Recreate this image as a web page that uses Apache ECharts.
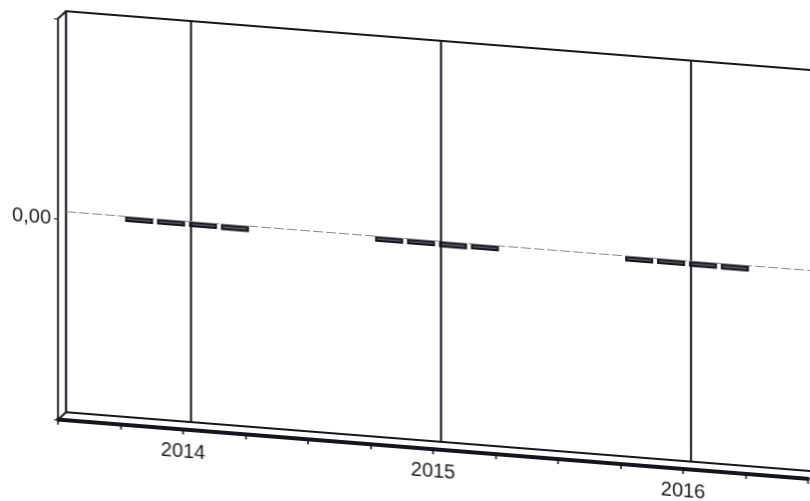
<!DOCTYPE html>
<html><head><meta charset="utf-8">
<script src="https://cdn.jsdelivr.net/npm/echarts@6/dist/echarts.min.js"></script>
<style>
html,body{margin:0;padding:0;background:#fff;overflow:hidden;width:810px;height:501px}
#c{width:830px;height:501px;transform:skewY(4.517deg);transform-origin:0 0;}
</style>
</head><body><div id="c"></div>
<script>
// ---- data ----
const years = [2014, 2015, 2016];
const xMin = 2013.5, xMax = 2016.5, xTickStep = 0.25;
const yMin = -1, yMax = 1;
const zeroLabel = '0,00';
const seriesA = [-0.027, -0.028, -0.028];
const seriesB = [-0.028, -0.028, -0.028];
const seriesC = [-0.028, -0.030, -0.029];
const seriesD = [-0.030, -0.028, -0.030];

// ---- layout (unskewed frame) ----
const wall = {left: 66, top: 6, width: 750, height: 401};
const depth = {dx: -8, dy: 8};
const ink = '#15151d';

const chart = echarts.init(document.getElementById('c'), null, {renderer: 'canvas'});
const pairs = arr => years.map((y, i) => [y, arr[i]]);
const barStyle = {color: '#55555e', borderColor: ink, borderWidth: 2};
const mkBar = (name, arr) => ({
  name, type: 'bar', xAxisIndex: 2, yAxisIndex: 2, data: pairs(arr),
  barWidth: 28, barGap: '14%', itemStyle: barStyle, silent: true
});
const font = 'Liberation Sans, Arial, sans-serif';

chart.setOption({
  animation: false,
  backgroundColor: '#fff',
  grid: [
    {left: wall.left, top: wall.top, width: wall.width, height: wall.height,
     show: true, borderColor: ink, borderWidth: 2.2, backgroundColor: '#fff'},
    {left: wall.left + depth.dx, top: wall.top + depth.dy, width: wall.width, height: wall.height, show: false},
    {left: wall.left + depth.dx / 2, top: wall.top, width: wall.width, height: wall.height, show: false}
  ],
  xAxis: [
    {type: 'value', gridIndex: 0, min: xMin, max: xMax, show: false},
    {type: 'value', gridIndex: 1, min: xMin, max: xMax, interval: xTickStep,
     axisLine: {show: true, onZero: false, lineStyle: {color: ink, width: 4}},
     axisTick: {show: true, length: 5, lineStyle: {color: ink, width: 1.6}},
     splitLine: {show: false},
     axisLabel: {show: true, margin: 12, color: '#1a1a1a', fontSize: 20, fontFamily: font,
       formatter: v => Number.isInteger(v) ? String(v) : ''}},
    {type: 'value', gridIndex: 2, min: xMin, max: xMax, show: false}
  ],
  yAxis: [
    {type: 'value', gridIndex: 0, min: yMin, max: yMax, show: false},
    {type: 'value', gridIndex: 1, min: yMin, max: yMax, interval: 1,
     axisLine: {show: true, lineStyle: {color: ink, width: 1.8}},
     axisTick: {show: true, length: 4, lineStyle: {color: ink, width: 1}},
     splitLine: {show: false},
     axisLabel: {margin: 7, color: '#1a1a1a', fontSize: 20, fontFamily: font,
       formatter: v => v === 0 ? zeroLabel : ''}},
    {type: 'value', gridIndex: 2, min: yMin, max: yMax, show: false}
  ],
  series: [
    {type: 'line', xAxisIndex: 0, yAxisIndex: 0, data: [], silent: true,
     markLine: {silent: true, symbol: 'none', label: {show: false},
       data: [
         ...years.map(y => ({xAxis: y, lineStyle: {color: ink, width: 2, type: 'solid'}})),
         {yAxis: 0, lineStyle: {color: '#888', width: 1, type: [10, 3]}}
       ]}},
    mkBar('A', seriesA), mkBar('B', seriesB), mkBar('C', seriesC), mkBar('D', seriesD)
  ],
  graphic: [
    {type: 'line', silent: true, shape: {x1: wall.left, y1: wall.top, x2: wall.left + depth.dx, y2: wall.top + depth.dy},
     style: {stroke: ink, lineWidth: 1.8}},
    {type: 'line', silent: true, shape: {x1: wall.left, y1: wall.top + wall.height, x2: wall.left + depth.dx, y2: wall.top + wall.height + depth.dy},
     style: {stroke: ink, lineWidth: 1.8}}
  ]
});
</script></body></html>
